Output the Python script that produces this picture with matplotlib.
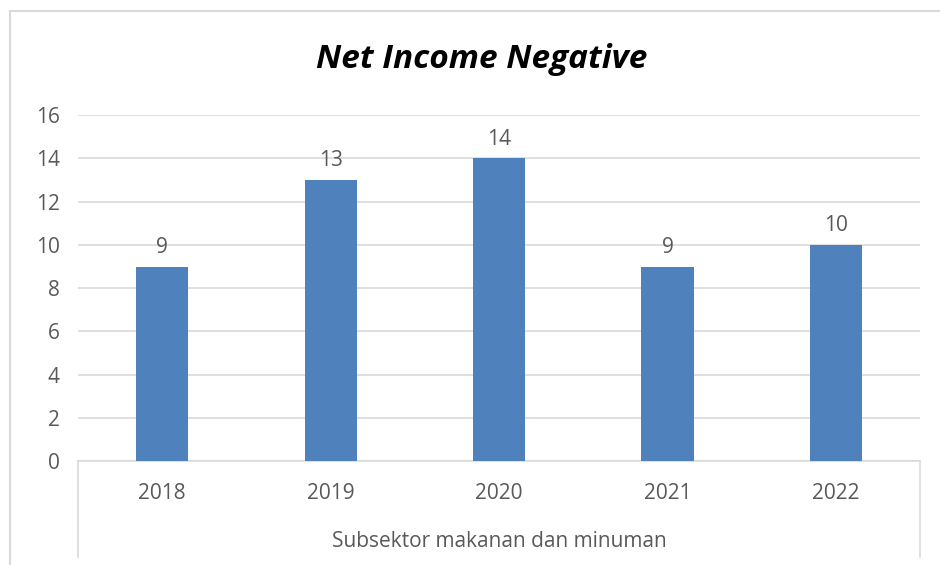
import matplotlib
matplotlib.use("Agg")
import matplotlib.pyplot as plt
from matplotlib.lines import Line2D

plt.rcParams['font.family'] = ['Open Sans', 'DejaVu Sans']

years = ["2018", "2019", "2020", "2021", "2022"]
values = [9, 13, 14, 9, 10]
title = "Net Income Negative"
group_label = "Subsektor makanan dan minuman"
yticks = [0, 2, 4, 6, 8, 10, 12, 14, 16]

bar_color = "#4F81BD"
text_color = "#595959"
grid_color = "#D9D9D9"
fs = 15

fig = plt.figure(figsize=(9.4, 5.65), dpi=100)
ax = fig.add_axes([0.083, 0.184, 0.896, 0.612])

x = list(range(len(years)))
ax.bar(x, values, width=0.31, color=bar_color, zorder=3)
for xi, v in zip(x, values):
    ax.text(xi, v + 0.4, str(v), ha="center", va="bottom", fontsize=fs, color=text_color)

ax.set_xlim(-0.5, len(years) - 0.5)
ax.set_ylim(0, 16)
ax.set_yticks(yticks)
ax.set_yticklabels([str(t) for t in yticks])
ax.yaxis.grid(True, color=grid_color, linewidth=1.2, zorder=0)
ax.tick_params(axis="y", length=0, labelsize=fs, labelcolor=text_color, pad=13)
ax.set_xticks([])
for s in ["top", "right", "left"]:
    ax.spines[s].set_visible(False)
ax.spines["bottom"].set_color(grid_color)
ax.spines["bottom"].set_linewidth(1.2)

# category labels
for xi, yr in zip(x, years):
    ax.text(xi, -1.5, yr, ha="center", va="center", fontsize=fs, color=text_color)
ax.text((len(years) - 1) / 2, -3.7, group_label, ha="center", va="center", fontsize=fs, color=text_color)

# category box verticals
for xv in (-0.5, len(years) - 0.5):
    ax.add_line(Line2D([xv, xv], [0, -4.45], color=grid_color, linewidth=1.2, clip_on=False))

# title
fig.text(0.512, 0.895, title, ha="center", va="center", fontsize=24, fontweight="bold",
         fontstyle="italic", color="black")

# outer chart frame
fig.add_artist(Line2D([0.0106, 0.0106], [0.0, 0.981], transform=fig.transFigure, color="#D9D9D9", linewidth=1.5))
fig.add_artist(Line2D([0.0106, 1.0], [0.981, 0.981], transform=fig.transFigure, color="#D9D9D9", linewidth=1.5))

fig.savefig("out.png", dpi=100)
